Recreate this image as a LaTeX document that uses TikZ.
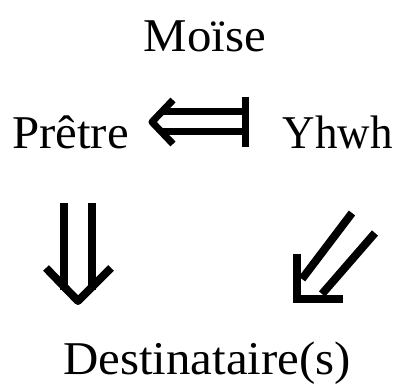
\documentclass[tikz,border=0pt]{standalone}
\usepackage{fontspec}
\setmainfont[FakeStretch=1.04]{Liberation Serif}
\begin{document}
\begin{tikzpicture}[x=1pt,y=-1pt,
  label/.style={inner sep=0pt,font=\fontsize{47}{56}\selectfont},
  arrowline/.style={line width=8pt,line cap=butt,line join=miter}]
\useasboundingbox (0,0) rectangle (400,385);
\fill[white] (0,0) rectangle (400,385);

% names
\node[label,anchor=base] (moise) at (205,52) {Moïse};
\node[label,anchor=base west] (pretre) at (12,149) {Prêtre};
\node[label,anchor=base east] (yhwh) at (393,149) {\scalebox{0.92}[1]{Yhwh}};
\node[label,anchor=base] (dest) at (207,375) {Destinataire(s)};

% Yhwh to Prêtre: double arrow from bar
\coordinate (hbar) at (245,122);
\coordinate (htip) at (152,122);
\draw[line width=7pt] (hbar) ++(0,-25) -- ++(0,50);
\draw[line width=7pt] (163,111.5) -- (hbar |- 0,111.5);
\draw[line width=7pt] (163,131.5) -- (hbar |- 0,131.5);
\draw[line width=7pt,line join=round] (173,100) -- (htip) -- (173,144);

% Prêtre to Destinataire(s): downward double arrow
\coordinate (vtip) at (78,301);
\draw[arrowline] (64,203) -- (64,290);
\draw[arrowline] (92,203) -- (92,290);
\draw[arrowline,line join=round] (46,268) -- (vtip) -- (111,268);

% Yhwh to Destinataire(s): south-west double arrow
\coordinate (dtip) at (297,299);
\draw[arrowline] (352,213) -- (302,279);
\draw[arrowline] (375,233) -- (322,294);
\draw[arrowline] (297,254) -- (dtip) -- (343,299);
\end{tikzpicture}
\end{document}
